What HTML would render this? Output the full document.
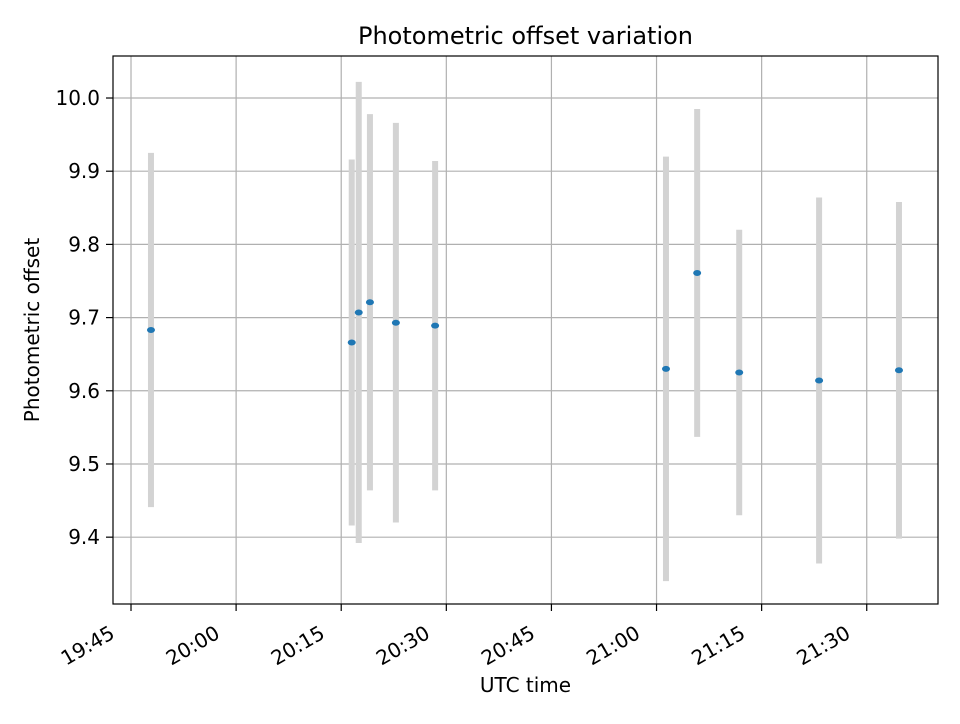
<!DOCTYPE html>
<html><head><meta charset="utf-8"><style>
body{margin:0;background:#fff;font-family:"DejaVu Sans","Liberation Sans",sans-serif}
svg text{font-family:"DejaVu Sans","Liberation Sans",sans-serif}
</style></head><body>
<svg id="c" width="960" height="720" xmlns="http://www.w3.org/2000/svg"></svg>
<script>
const times=["19:47:51","20:16:30","20:17:30","20:19:06","20:22:48","20:28:24","21:01:21","21:05:48","21:11:48","21:23:12","21:34:36"];
const values=[9.683,9.666,9.707,9.721,9.693,9.689,9.630,9.761,9.625,9.614,9.628];
const errors=[0.242,0.25,0.315,0.257,0.273,0.225,0.29,0.224,0.195,0.25,0.23];
const xTicks=["19:45","20:00","20:15","20:30","20:45","21:00","21:15","21:30"];
const yTicks=[9.4,9.5,9.6,9.7,9.8,9.9,10.0];
const L=113,R=938,T=56,B=604;
const toMin=s=>{const p=s.split(':').map(Number);return p[0]*60+p[1]+(p[2]||0)/60;};
const x0=toMin("19:45")-2.57,x1=toMin("19:45")+115.17,y0=9.3087,y1=10.0574;
const X=m=>L+(m-x0)/(x1-x0)*(R-L), Y=v=>B-(v-y0)/(y1-y0)*(B-T);
const svg=document.getElementById('c');const NS="http://www.w3.org/2000/svg";
function mk(t,a,p){const e=document.createElementNS(NS,t);for(const k in a)e.setAttribute(k,a[k]);(p||svg).appendChild(e);return e;}
const grid=mk('g',{});
xTicks.forEach(t=>{const x=X(toMin(t));
 mk('line',{x1:x,x2:x,y1:T,y2:B,stroke:'#b0b0b0','stroke-width':1.2},grid);
 mk('line',{x1:x,x2:x,y1:B,y2:B+7,stroke:'#000','stroke-width':1.2});
 const ax=x-15,ay=B+33;
 const tx=mk('text',{x:ax,y:ay,'font-size':20,'text-anchor':'end',transform:`rotate(-30 ${ax} ${ay})`});
 tx.textContent=t;});
yTicks.forEach(v=>{const y=Y(v);
 mk('line',{x1:L,x2:R,y1:y,y2:y,stroke:'#b0b0b0','stroke-width':1.2},grid);
 mk('line',{x1:L-7,x2:L,y1:y,y2:y,stroke:'#000','stroke-width':1.2});
 const tx=mk('text',{x:L-13,y:y+7,'font-size':20,'text-anchor':'end'});
 tx.textContent=v.toFixed(1);});
times.forEach((t,i)=>{const x=X(toMin(t));
 const e=mk('line',{x1:x,x2:x,y1:Y(values[i]+errors[i]),y2:Y(values[i]-errors[i]),stroke:'#d3d3d3','stroke-width':6});
 });
times.forEach((t,i)=>{const p=mk('ellipse',{cx:X(toMin(t)),cy:Y(values[i]),rx:4,ry:3,fill:'#1f77b4'});
 });
const f=mk('rect',{x:L,y:T,width:R-L,height:B-T,fill:'none',stroke:'#000','stroke-width':1.2});

let t1=mk('text',{x:(L+R)/2,y:44,'font-size':24,'text-anchor':'middle'});t1.textContent='Photometric offset variation';

let t2=mk('text',{x:(L+R)/2,y:692,'font-size':20,'text-anchor':'middle'});t2.textContent='UTC time';

let t3=mk('text',{x:39,y:330,'font-size':20,'text-anchor':'middle',transform:'rotate(-90 39 330)'});t3.textContent='Photometric offset';

</script></body></html>
